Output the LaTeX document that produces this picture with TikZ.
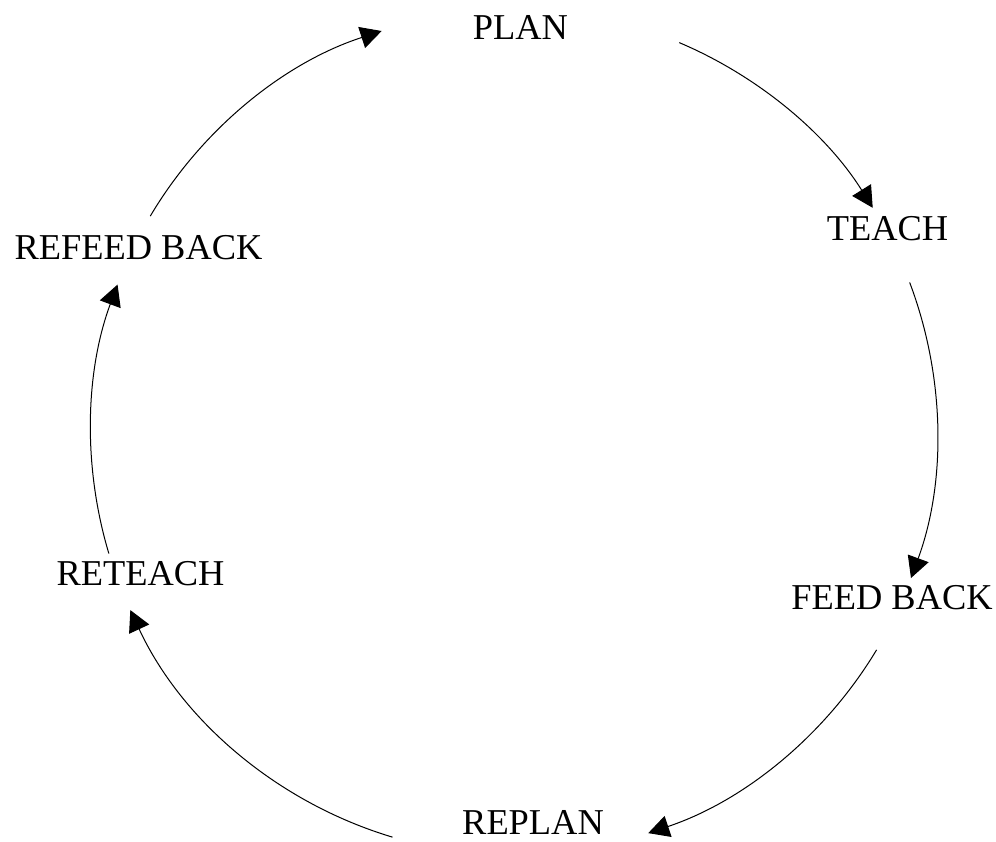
\documentclass[tikz,border=0pt]{standalone}
\usepackage{fontspec}
\setmainfont{Liberation Serif}
\usetikzlibrary{arrows.meta,calc}
\begin{document}
\begin{tikzpicture}[x=1pt,y=1pt,
  lbl/.style={inner sep=0pt,font=\fontsize{36.4}{40}\selectfont},
  cyc/.style={line width=1pt,-{Triangle[length=21pt,width=22pt]}}]
\useasboundingbox (0,0) rectangle (996,841);
\fill[white] (0,0) rectangle (996,841);
\coordinate (o) at (514,409);
\node[lbl] (plan) at (520.5,813.5) {PLAN};
\node[lbl] (teach) at (887.5,612) {TEACH};
\node[lbl] (feedback) at (892,243.5) {FEED BACK};
\node[lbl] (replan) at (533,18.5) {REPLAN};
\node[lbl] (reteach) at (140.5,267) {RETEACH};
\node[lbl] (refeedback) at (138.5,593.5) {REFEED BACK};
\coordinate (s1) at ($(o)+(67:423)$);
\coordinate (s2) at ($(o)+(20.7:423)$);
\coordinate (s3) at ($(o)+(-31:423)$);
\coordinate (s4) at ($(o)+(-106.7:423)$);
\coordinate (s5) at ($(o)+(196.7:423)$);
\coordinate (s6) at ($(o)+(149.3:423)$);
\draw[cyc] (s1) arc[start angle=67,end angle=32,radius=423];
\draw[cyc] (s2) arc[start angle=20.7,end angle=-20.2,radius=423];
\draw[cyc] (s3) arc[start angle=-31,end angle=-71.5,radius=423];
\draw[cyc] (s4) arc[start angle=-106.7,end angle=-155.1,radius=423];
\draw[cyc] (s5) arc[start angle=196.7,end angle=159.6,radius=423];
\draw[cyc] (s6) arc[start angle=149.3,end angle=108,radius=420];
\end{tikzpicture}
\end{document}
